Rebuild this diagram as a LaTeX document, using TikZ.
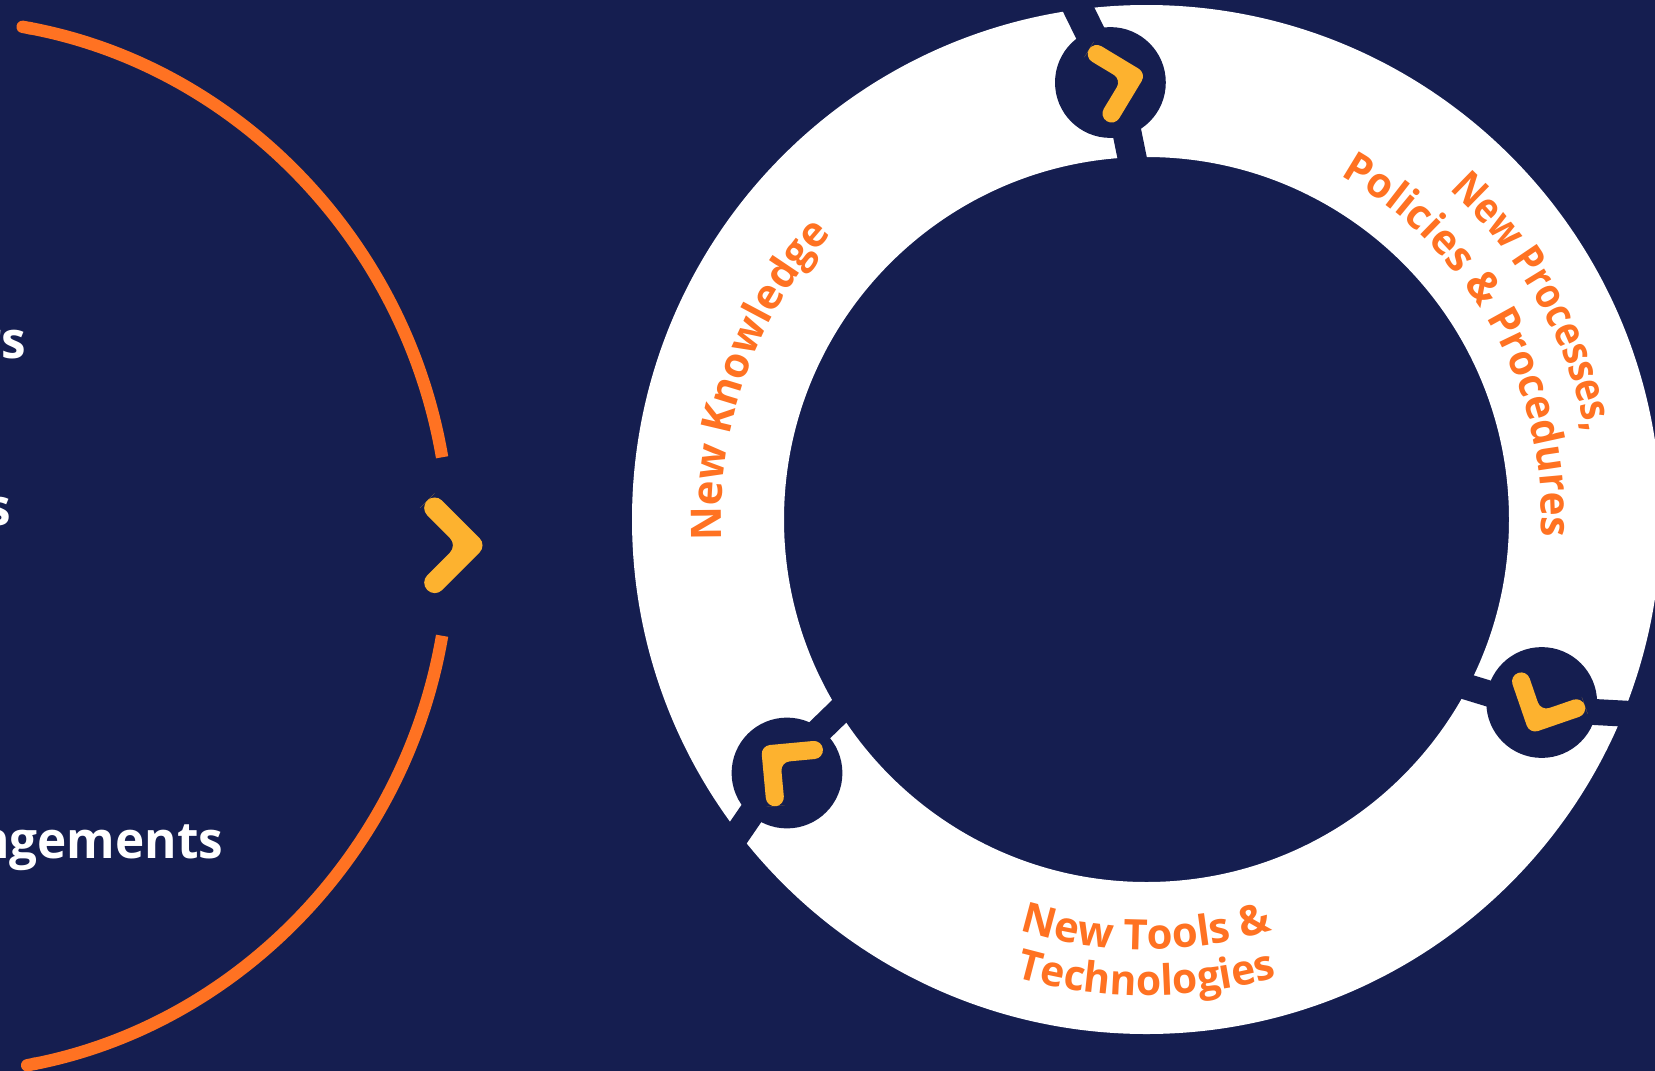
\documentclass[tikz,border=0pt]{standalone}
\usepackage{fontspec}
\setmainfont{Open Sans}[FakeStretch=0.97]
\newfontfamily\tightface{Open Sans}[FakeStretch=0.88]
\newfontfamily\wideface{Open Sans}[FakeStretch=0.995]
\usetikzlibrary{arrows.meta, decorations.text}
\definecolor{navy}{HTML}{151E50}
\definecolor{flame}{HTML}{FF7222}
\definecolor{amber}{HTML}{FDB22F}
\tikzset{
  x=0.5pt, y=0.5pt,
  sweep/.style={draw=flame, line width=6.2pt}, % the two long arcs
  gap/.style={draw=navy, line width=13pt}, % cuts through the ring
  gate/.style={circle, fill=navy, inner sep=0pt, minimum size=55.4pt},
  label/.style={decorate, decoration={text along path, text align=center, text={#1}}},
}
\newcommand{\bigfont}{\bfseries\color{flame}\fontsize{21}{21}\selectfont}
\newcommand{\sidefont}{\bfseries\fontsize{25.5}{25.5}\selectfont}
% x, y, rotation, arm, half width of the bar times sqrt 2
\newcommand{\chevron}[5]{
  \fill[amber, shift={(#1,#2)}, rotate=#3, rounded corners=#5*0.35pt]
    (-#4-#5/2,#4+#5/2) -- (-#4,#4+#5) -- (#5,0) -- (-#4,-#4-#5) -- (-#4-#5,-#4) -- (-#5,0) -- (-#4-#5,#4) -- cycle;
}

\begin{document}
\begin{tikzpicture}
    \useasboundingbox[fill=navy] (0,0) rectangle (1655,-1071);

    % the ring
    \coordinate (hub) at (1146.5,-519.5);
    \fill[white, even odd rule] (hub) circle (514.5) (hub) circle (362.5);

    % cuts and gates
    \node[gate] (gate1) at (1110.4,-82.5) {};
    \node[gate] (gate2) at (1541.7,-702.5) {};
    \node[gate] (gate3) at (787,-773) {};

    \coordinate (a1) at (1072,4);
    \coordinate (b1) at (1097,-47);
    \coordinate (a2) at (1124,-118);
    \coordinate (b2) at (1134.3,-168.5);
    \coordinate (a3) at (1451,-682);
    \coordinate (b3) at (1500,-697);
    \coordinate (a4) at (1585,-711.5);
    \coordinate (b4) at (1650,-715);
    \coordinate (a5) at (805,-744.5);
    \coordinate (b5) at (855,-696);
    \coordinate (a6) at (762,-798);
    \coordinate (b6) at (725,-852);

    \draw[gap, line width=15pt] (a1) -- (b1);
    \draw[gap, line width=14.5pt] (a2) -- (b2);
    \draw[gap] (a3) -- (b3);
    \draw[gap] (a4) -- (b4);
    \draw[gap] (a5) -- (b5);
    \draw[gap] (a6) -- (b6);

    % long arcs on the left
    \coordinate (west) at (-80,-546.5);
    \draw[sweep, {Round Cap[]}-] ([shift={(79.5:529.7)}]west) arc[start angle=79.5, end angle=9.7, radius=529.7];
    \draw[sweep, -{Round Cap[]}] ([shift={(-9.7:529.7)}]west) arc[start angle=-9.7, end angle=-79, radius=529.7];

    \chevron{472}{-545.3}{0}{37.3}{14.8}
    \chevron{1133.9}{-76.4}{13.9}{30.6}{12.8}
    \chevron{1535.2}{-722.4}{244}{30.6}{12.8}
    \chevron{770.8}{-754}{140.3}{30.6}{12.8}

    % side texts
    \node[white, font=\sidefont, anchor=base east, inner sep=0pt] (side1) at (26.5,-358) {rs};
    \node[white, font=\sidefont, anchor=base east, inner sep=0pt] (side2) at (11,-525) {s};
    \node[white, font=\sidefont, anchor=base east, inner sep=0pt] (side3) at (223.5,-858) {ngements};

    % ring texts
    \path[label=|\wideface\bigfont|New Knowledge] ([shift={(190.3:425.5)}]hub) arc[start angle=190.3, end angle=130.3, radius=425.5];
    \path[label=|\tightface\bigfont|New Processes{,}] ([shift={(59.3:448)}]hub) arc[start angle=59.3, end angle=-0.7, radius=448];
    \path[label=|\bigfont|Policies {\&} Procedures] ([shift={(69:395)}]hub) arc[start angle=69, end angle=-11, radius=395];
    \path[label=|\wideface\bigfont|New Tools {\&}] ([shift={(245:430)}]hub) arc[start angle=245, end angle=295, radius=430];
    \path[label=|\bigfont|Technologies] ([shift={(245:476)}]hub) arc[start angle=245, end angle=295, radius=476];
\end{tikzpicture}
\end{document}
